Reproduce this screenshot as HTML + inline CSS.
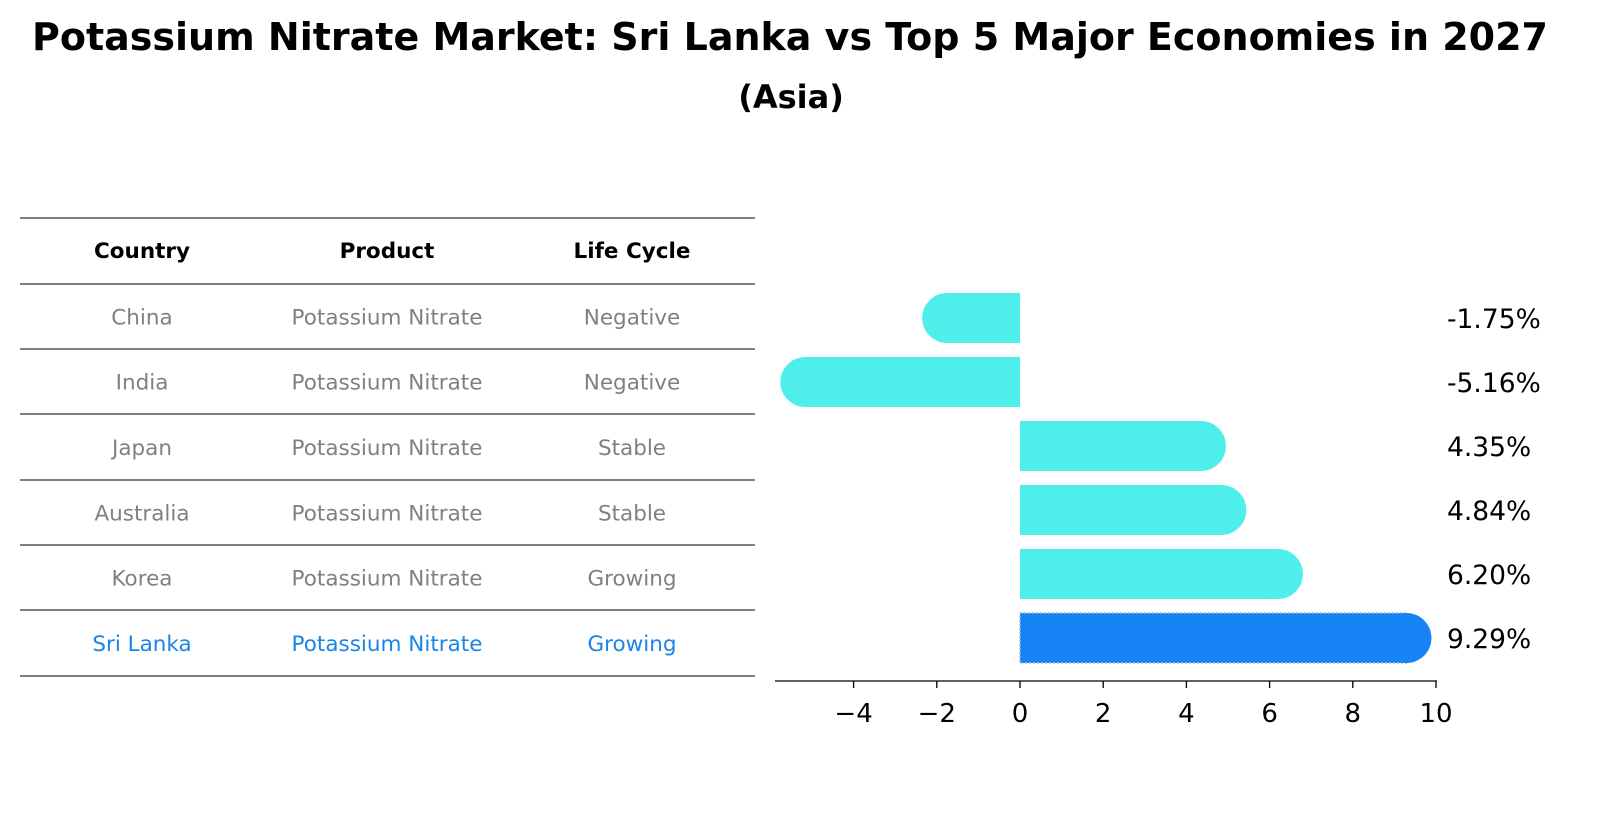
<!DOCTYPE html>
<html><head><meta charset="utf-8">
<style>
body{margin:0;background:#fff;font-family:"Liberation Sans","DejaVu Sans",sans-serif;}
svg text{font-family:"DejaVu Sans","Liberation Sans",sans-serif;}
</style></head>
<body>
<svg id="c" width="1602" height="823" viewBox="0 0 1602 823" xmlns="http://www.w3.org/2000/svg">
<text x="790" y="50" text-anchor="middle" font-size="38" font-weight="bold">Potassium Nitrate Market: Sri Lanka vs Top 5 Major Economies in 2027</text>
<text x="791" y="108" text-anchor="middle" font-size="32" font-weight="bold">(Asia)</text>
<g id="table"></g>
<g id="bars"></g>
<g id="axis"></g>
</svg>
<script>
const countries=["China","India","Japan","Australia","Korea","Sri Lanka"];
const products=["Potassium Nitrate","Potassium Nitrate","Potassium Nitrate","Potassium Nitrate","Potassium Nitrate","Potassium Nitrate"];
const lifeCycles=["Negative","Negative","Stable","Stable","Growing","Growing"];
const growth=[-1.75,-5.16,4.35,4.84,6.20,9.29];
const valueLabels=["-1.75%","-5.16%","4.35%","4.84%","6.20%","9.29%"];
const ticks=[-4,-2,0,2,4,6,8,10];
const tickLabels=["\u22124","\u22122","0","2","4","6","8","10"];

const NS="http://www.w3.org/2000/svg";
function mk(tag,attrs,parent){const e=document.createElementNS(NS,tag);for(const k in attrs)e.setAttribute(k,attrs[k]);parent.appendChild(e);return e;}
const xs=v=>1020+v*41.6;
const rowY=i=>318+i*64;

const T=document.getElementById('table');
const lines=[218,284,349,414,480,545,610,676];
lines.forEach((y,i)=>{const l=mk('line',{x1:20,x2:755,y1:y,y2:y,stroke:'#000','stroke-width':1},T);

});
const colX=[142,387,632];
["Country","Product","Life Cycle"].forEach((h,j)=>{const t=mk('text',{x:colX[j],y:258,'text-anchor':'middle','font-size':21.5,'font-weight':'bold'},T);t.textContent=h;

});
countries.forEach((c,i)=>{
  const y=(lines[i+1]+lines[i+2])/2+8;
  const col=i===countries.length-1?'#1a84e8':'#808080';
  [c,products[i],lifeCycles[i]].forEach((v,j)=>{const t=mk('text',{x:colX[j],y:y,'text-anchor':'middle','font-size':21.5,fill:col},T);t.textContent=v;
  
  });
});

const B=document.getElementById('bars');
growth.forEach((v,i)=>{
  const cy=rowY(i),h=50,last=i===growth.length-1;
  const col=last?'#1784f5':'#4eeeea';
  const g=mk('g',{},B);
  
  
  const x0=Math.min(xs(0),xs(v)),w=Math.abs(xs(v)-xs(0));
  mk('rect',{x:x0,y:cy-h/2,width:w,height:h,fill:col},g);
  if(last) mk('rect',{x:x0,y:cy-h/2,width:w,height:h,fill:'none',stroke:'#9ab8e0','stroke-width':1.5,'stroke-dasharray':'2,2'},g);
  mk('circle',{cx:xs(v),cy:cy,r:h/2,fill:col},g);
  const t=mk('text',{x:1447,y:cy+10,'font-size':26.5},B);t.textContent=valueLabels[i];
  
  
});

const A=document.getElementById('axis');
mk('line',{x1:775,x2:1437,y1:681,y2:681,stroke:'#000','stroke-width':1.3},A);
ticks.forEach((v,i)=>{
  mk('line',{x1:xs(v),x2:xs(v),y1:681,y2:688,stroke:'#000','stroke-width':1.3},A);
  const t=mk('text',{x:xs(v),y:722,'text-anchor':'middle','font-size':26},A);t.textContent=tickLabels[i];
  
  
});
</script>
</body></html>
